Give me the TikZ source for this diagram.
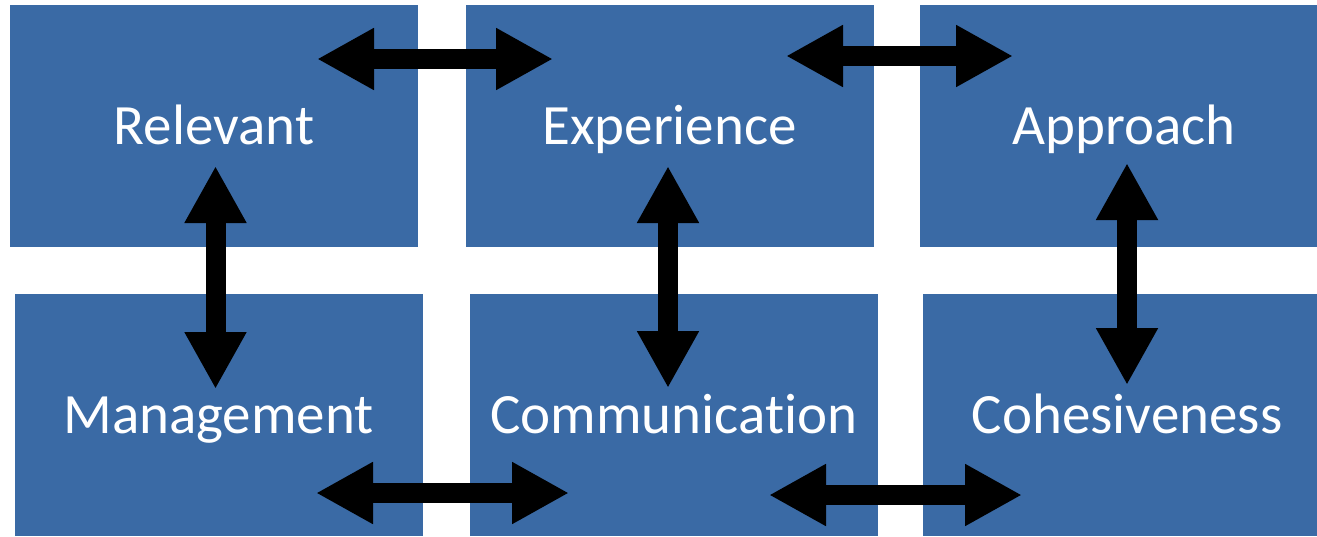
\documentclass[tikz,border=0pt]{standalone}
\usepackage{fontspec}
\setmainfont[Ligatures=NoCommon]{Carlito}
\usepackage{xcolor}
\usetikzlibrary{arrows.meta}
\definecolor{boxblue}{RGB}{58,106,165}

\begin{document}
\begin{tikzpicture}[x=1pt,y=-1pt,
        block/.style={fill=boxblue, text=white, inner sep=0pt,
            minimum width=408pt, minimum height=242pt,
            text height=36.7pt, text depth=0pt,
            font=\fontsize{57}{60}\selectfont},
        biarrow/.style={line width=20pt,
            {Triangle[width=58pt,length=57pt]}-{Triangle[width=58pt,length=57pt]}}]
        \useasboundingbox (0,0) rectangle (1317,536);
        % boxes
        \node[block] (relevant) at (214,126) {Relevant};
        \node[block] (experience) at (669.5,126) {Experience};
        \node[block] (approach) at (1124,126) {Approach};
        \node[block] (management) at (218.5,415) {Management};
        \node[block] (communication) at (674,415) {Communication};
        \node[block] (cohesiveness) at (1127,415) {Cohesiveness};
        % arrow ends
        \coordinate (tl1) at (317,59);   \coordinate (tl2) at (553,59);
        \coordinate (tr1) at (786,56);   \coordinate (tr2) at (1013,56);
        \coordinate (bl1) at (316,493);  \coordinate (bl2) at (569,493);
        \coordinate (br1) at (769,495);  \coordinate (br2) at (1022,495);
        \coordinate (vl1) at (215.5,166); \coordinate (vl2) at (215.5,389);
        \coordinate (vm1) at (668,166);  \coordinate (vm2) at (668,388);
        \coordinate (vr1) at (1127,163); \coordinate (vr2) at (1127,385);
        % arrows
        \draw[biarrow] (tl1) -- (tl2);
        \draw[biarrow] (tr1) -- (tr2);
        \draw[biarrow] (bl1) -- (bl2);
        \draw[biarrow] (br1) -- (br2);
        \draw[biarrow] (vl1) -- (vl2);
        \draw[biarrow] (vm1) -- (vm2);
        \draw[biarrow] (vr1) -- (vr2);
    \end{tikzpicture}
\end{document}
